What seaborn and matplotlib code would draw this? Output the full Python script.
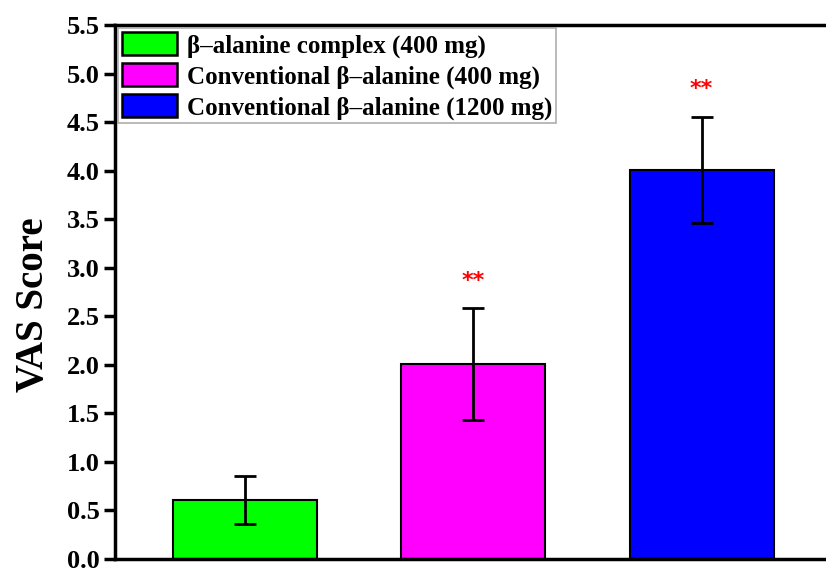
import matplotlib
matplotlib.use("Agg")
import matplotlib.pyplot as plt
import seaborn as sns
import pandas as pd
from matplotlib.patches import Patch

categories = ["β–alanine complex (400 mg)",
              "Conventional β–alanine (400 mg)",
              "Conventional β–alanine (1200 mg)"]
values = [0.61, 2.01, 4.01]
errors = [0.25, 0.58, 0.55]
significance = ["", "**", "**"]
colors = ["#00ff00", "#ff00ff", "#0000ff"]
y_ticks = [0.0, 0.5, 1.0, 1.5, 2.0, 2.5, 3.0, 3.5, 4.0, 4.5, 5.0, 5.5]

sns.set_style("ticks")
plt.rcParams['font.family'] = ['Liberation Serif', 'DejaVu Serif']
plt.rcParams['font.weight'] = 'bold'
plt.rcParams['text.color'] = 'black'
plt.rcParams['axes.labelcolor'] = 'black'
plt.rcParams['ytick.color'] = 'black'

fig = plt.figure(figsize=(8.26, 5.72), dpi=100)
ax = fig.add_axes([0.139, 0.0227, 0.868, 0.933])

df = pd.DataFrame({"group": categories, "score": values})
sns.barplot(data=df, x="group", y="score", hue="group", palette=colors,
            order=categories, hue_order=categories, dodge=False, width=0.63,
            saturation=1, edgecolor="black", linewidth=1.5, legend=False, ax=ax)

xs = list(range(len(categories)))
ax.errorbar(xs, values, yerr=errors, fmt="none", ecolor="black",
            elinewidth=2, capsize=8, capthick=2)

for x, v, e, s in zip(xs, values, errors, significance):
    if s:
        ax.text(x, v + e + 0.28, s, color="red", ha="center", va="center",
                fontsize=16, fontweight="bold", family=["DejaVu Sans"])

ax.set_ylim(0, 5.5)
ax.set_xlim(-0.568, 2.57)
ax.set_yticks(y_ticks)
ax.set_yticklabels([f"{t:.1f}" for t in y_ticks], fontsize=19, fontweight="bold",
                   color="black")
ax.set_xticks([])
ax.set_xlabel("")
ax.set_ylabel("VAS Score", fontsize=28, fontweight="bold", color="black")
ax.yaxis.set_label_coords(-0.088, 0.476)

for side in ["left", "top", "bottom"]:
    ax.spines[side].set_linewidth(2.5)
    ax.spines[side].set_color("black")
ax.spines["right"].set_visible(False)
ax.tick_params(axis="y", direction="out", length=8, width=2.5, pad=3, colors="black")

handles = [Patch(facecolor=c, edgecolor="black", linewidth=1.8) for c in colors]
leg = ax.legend(handles, categories, loc="upper left", bbox_to_anchor=(0.0, 1.0),
                prop={"family": "Liberation Serif", "weight": "bold", "size": 18},
                frameon=True, fancybox=False, edgecolor="#999999",
                handlelength=2.2, handleheight=1.05, handletextpad=0.4,
                labelspacing=0.22, borderpad=0.15, borderaxespad=0.12)
leg.get_frame().set_linewidth(1.2)

fig.savefig("out.png", dpi=100)
